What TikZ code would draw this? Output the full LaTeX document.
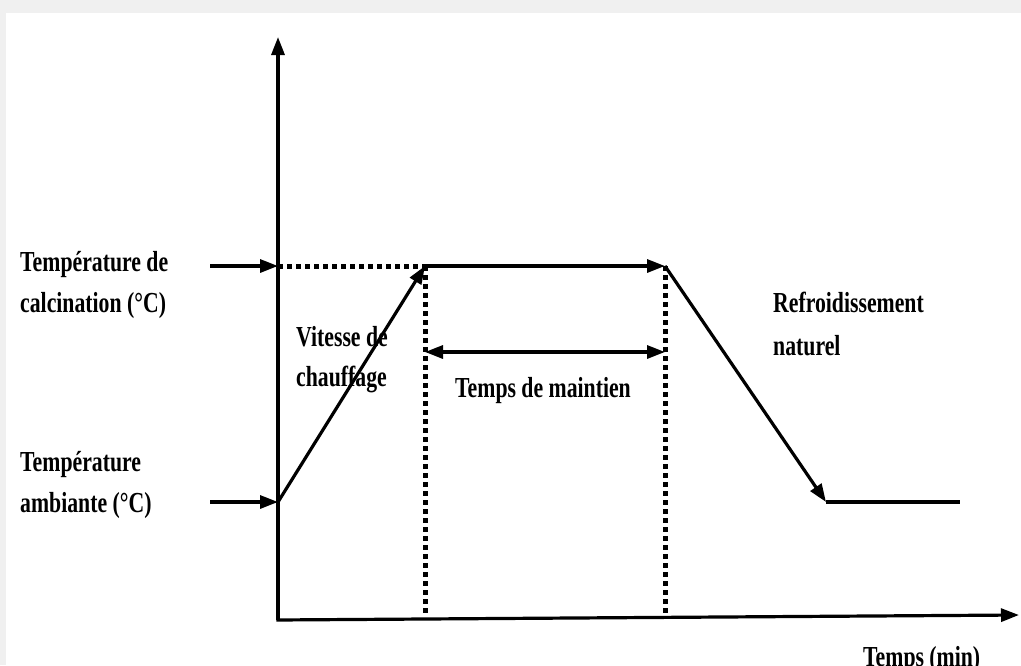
\documentclass[tikz,border=0pt]{standalone}
\usepackage{fontspec}
\setmainfont[FakeStretch=0.75]{Liberation Serif}
\usetikzlibrary{arrows.meta}
\begin{document}
\begin{tikzpicture}[x=1pt,y=-1pt,
  line/.style={line width=3.2pt,line cap=butt},
  arr/.style={line, -{Triangle[length=18pt,width=13pt]}},
  dots/.style={line width=5pt,dash pattern=on 5pt off 4pt},
  lbl/.style={anchor=base west,inner sep=0pt,font=\fontsize{29}{34}\selectfont\bfseries}]
\useasboundingbox (0,0) rectangle (1021,665);
\fill[gray!12] (0,0) rectangle (1021,665);
\fill[white] (6,13) rectangle (1021,665);
% coordinates
\coordinate (O) at (278,620);
\coordinate (Ytop) at (278,37);
\coordinate (Xend) at (1019,615);
\coordinate (Ca) at (278,266);
\coordinate (A) at (278,502);
\coordinate (Lc) at (210,266);
\coordinate (La) at (210,502);
\coordinate (P1) at (425,266);
\coordinate (P2) at (665,266);
\coordinate (B1) at (425,613);
\coordinate (B2) at (665,613);
\coordinate (M1) at (425,352);
\coordinate (M2) at (665,352);
\coordinate (C) at (826,502);
\coordinate (E) at (960,502);
% axes
\draw[arr] (O) -- (Ytop);
\draw[arr] ([xshift=-1.6pt]O) -- (Xend);
% dotted guides
\draw[dots] (Ca) -- (P1);
\draw[dots] (P1) -- (B1);
\draw[dots] (P2) -- (B2);
% input arrows
\draw[arr] (Lc) -- (Ca);
\draw[arr] (La) -- (A);
% profile
\draw[arr] (A) -- (P1);
\draw[arr] (P1) -- (P2);
\draw[arr] (P2) -- (C);
\draw[line] (C) -- (E);
% holding time
\draw[line,{Triangle[length=18pt,width=13pt]}-{Triangle[length=18pt,width=13pt]}] (M1) -- (M2);
% labels
\node[lbl] (t1) at (20,271) {Température de};
\node[lbl] (t2) at (20,312) {calcination (°C)};
\node[lbl] (t3) at (20,471) {Température};
\node[lbl] (t4) at (20,512) {ambiante (°C)};
\node[lbl] (t5) at (296,346) {Vitesse de};
\node[lbl] (t6) at (296,386) {chauffage};
\node[lbl] (t7) at (455,397) {Temps de maintien};
\node[lbl] (t8) at (773,312) {Refroidissement};
\node[lbl] (t9) at (773,355) {naturel};
\node[lbl] (t10) at (863,666) {Temps (min)};
\end{tikzpicture}
\end{document}
